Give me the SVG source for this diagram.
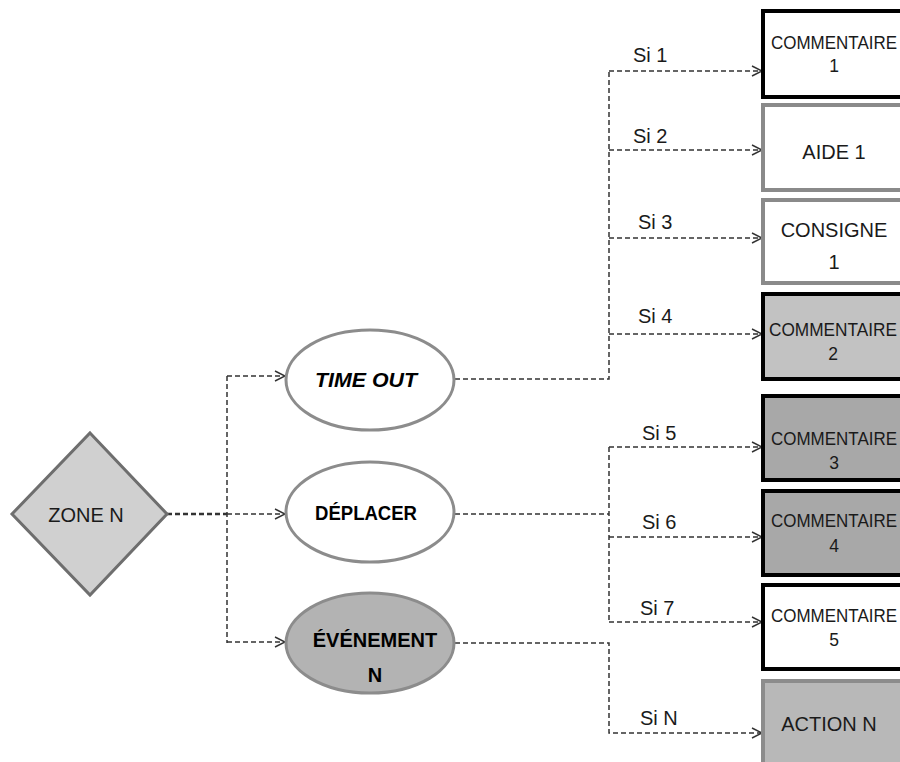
<svg xmlns="http://www.w3.org/2000/svg" width="900" height="762" viewBox="0 0 900 762">
<defs>
<marker id="arr" markerUnits="userSpaceOnUse" markerWidth="14" markerHeight="14" refX="11" refY="6" orient="auto">
<path d="M1,1 L11,6 L1,11" fill="none" stroke="#333" stroke-width="1.4"/>
</marker>
<style>
.t{font-family:"Liberation Sans",Arial,sans-serif;fill:#1a1a1a}
.c{font-size:17.5px;text-anchor:middle}
.b{font-size:20px;text-anchor:middle}
.s{font-size:20px}
.e{font-weight:bold;font-size:20px;text-anchor:middle;fill:#000}
.ln{fill:none;stroke:#333;stroke-width:1.5;stroke-dasharray:5 3}
.bk{stroke:#000;stroke-width:4}
.gr{stroke:#8a8a8a;stroke-width:4}
.el{stroke:#8c8c8c;stroke-width:3}
</style>
</defs>
<rect width="900" height="762" fill="#fff"/>
<g id="connectors">
<line x1="167" y1="514" x2="227" y2="514" class="ln" style="stroke-width:2.5"/>
<line x1="227" y1="376" x2="227" y2="643" class="ln"/>
<line x1="227" y1="376" x2="285" y2="376" class="ln" marker-end="url(#arr)"/>
<line x1="227" y1="514" x2="285" y2="514" class="ln" marker-end="url(#arr)"/>
<line x1="227" y1="642" x2="285" y2="642" class="ln" marker-end="url(#arr)"/>
<polyline points="455,379 609,379 609,71" class="ln"/>
<line x1="609" y1="71" x2="762" y2="71" class="ln" marker-end="url(#arr)"/>
<line x1="609" y1="150" x2="762" y2="150" class="ln" marker-end="url(#arr)"/>
<line x1="609" y1="238" x2="762" y2="238" class="ln" marker-end="url(#arr)"/>
<line x1="609" y1="334" x2="762" y2="334" class="ln" marker-end="url(#arr)"/>
<line x1="455" y1="514" x2="609" y2="514" class="ln"/>
<line x1="609" y1="447" x2="609" y2="622" class="ln"/>
<line x1="609" y1="447" x2="762" y2="447" class="ln" marker-end="url(#arr)"/>
<line x1="609" y1="537" x2="762" y2="537" class="ln" marker-end="url(#arr)"/>
<line x1="609" y1="622" x2="762" y2="622" class="ln" marker-end="url(#arr)"/>
<polyline points="455,643 609,643 609,733 762,733" class="ln" marker-end="url(#arr)"/>
<text class="t s" x="633" y="62">Si 1</text>
<text class="t s" x="633" y="143">Si 2</text>
<text class="t s" x="638" y="229">Si 3</text>
<text class="t s" x="638" y="323">Si 4</text>
<text class="t s" x="642" y="440">Si 5</text>
<text class="t s" x="642" y="529">Si 6</text>
<text class="t s" x="640" y="615">Si 7</text>
<text class="t s" x="640" y="725">Si N</text>
</g>
<g id="zone">
<polygon points="90,433 167,514 90,595 12,514" fill="#d0d0d0" stroke="#6e6e6e" stroke-width="3"/>
<text class="t b" x="86" y="522">ZONE N</text>
</g>
<g id="timeout">
<ellipse cx="370" cy="380" rx="84" ry="50" fill="#fff" class="el"/>
<text class="t e" x="366" y="387" font-style="italic" textLength="102" lengthAdjust="spacingAndGlyphs">TIME OUT</text>
</g>
<g id="deplacer">
<ellipse cx="370" cy="512" rx="84" ry="50" fill="#fff" class="el"/>
<text class="t e" x="366" y="520" textLength="102" lengthAdjust="spacingAndGlyphs">DÉPLACER</text>
</g>
<g id="evenement">
<ellipse cx="370" cy="643" rx="84" ry="50" fill="#b3b3b3" class="el"/>
<text class="t e" x="375" y="647">ÉVÉNEMENT</text>
<text class="t e" x="375" y="682">N</text>
</g>
<g id="c1">
<rect x="763" y="11" width="145" height="86" fill="#fff" class="bk"/>
<text class="t c" x="834" y="49" textLength="126" lengthAdjust="spacingAndGlyphs">COMMENTAIRE</text>
<text class="t c" x="834" y="72">1</text>
</g>
<g id="aide1">
<rect x="763" y="105" width="145" height="85" fill="#fff" class="gr"/>
<text class="t b" x="834" y="159">AIDE 1</text>
</g>
<g id="consigne1">
<rect x="763" y="200" width="145" height="83" fill="#fff" class="gr"/>
<text class="t b" x="834" y="237">CONSIGNE</text>
<text class="t b" x="834" y="269">1</text>
</g>
<g id="c2">
<rect x="763" y="294" width="145" height="85" fill="#c2c2c2" class="bk"/>
<text class="t c" x="833" y="336" textLength="128" lengthAdjust="spacingAndGlyphs">COMMENTAIRE</text>
<text class="t c" x="833" y="360">2</text>
</g>
<g id="c3">
<rect x="763" y="396" width="145" height="84" fill="#a8a8a8" class="bk"/>
<text class="t c" x="834" y="445" textLength="126" lengthAdjust="spacingAndGlyphs">COMMENTAIRE</text>
<text class="t c" x="834" y="469">3</text>
</g>
<g id="c4">
<rect x="763" y="491" width="145" height="84" fill="#a8a8a8" class="bk"/>
<text class="t c" x="834" y="527" textLength="126" lengthAdjust="spacingAndGlyphs">COMMENTAIRE</text>
<text class="t c" x="834" y="552">4</text>
</g>
<g id="c5">
<rect x="763" y="585" width="145" height="84" fill="#fff" class="bk"/>
<text class="t c" x="834" y="622" textLength="126" lengthAdjust="spacingAndGlyphs">COMMENTAIRE</text>
<text class="t c" x="834" y="646">5</text>
</g>
<g id="actionN">
<rect x="763" y="681" width="145" height="90" fill="#b8b8b8" stroke="#8c8c8c" stroke-width="4"/>
<text class="t b" x="829" y="731">ACTION N</text>
</g>
</svg>
